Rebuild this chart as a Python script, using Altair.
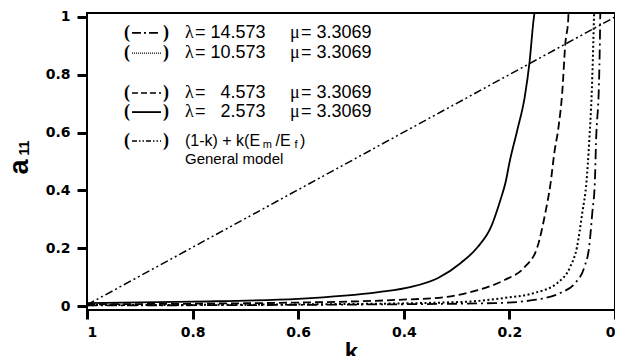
import altair as alt
import pandas as pd

# ---- data ----
k_l2 = [1.0, 0.8, 0.6, 0.448, 0.386, 0.335, 0.292, 0.260, 0.235, 0.217, 0.207, 0.200, 0.185, 0.171, 0.162, 0.154, 0.152]
a_l2 = [0.010, 0.015, 0.025, 0.048, 0.066, 0.097, 0.149, 0.204, 0.273, 0.367, 0.430, 0.495, 0.609, 0.723, 0.841, 0.993, 1.02]

k_l4 = [1.0, 0.6, 0.416, 0.322, 0.260, 0.209, 0.171, 0.147, 0.132, 0.122, 0.115, 0.107, 0.100, 0.094, 0.0885, 0.088]
a_l4 = [0.006, 0.012, 0.021, 0.031, 0.055, 0.090, 0.135, 0.204, 0.322, 0.425, 0.529, 0.619, 0.737, 0.910, 0.993, 1.02]

k_l10 = [1.0, 0.5, 0.292, 0.209, 0.153, 0.109, 0.085, 0.072, 0.062, 0.054, 0.049, 0.043, 0.040, 0.0395]
a_l10 = [0.003, 0.007, 0.014, 0.028, 0.045, 0.080, 0.135, 0.204, 0.322, 0.430, 0.564, 0.792, 0.985, 1.02]

k_l14 = [1.0, 0.5, 0.228, 0.153, 0.104, 0.075, 0.058, 0.049, 0.043, 0.038, 0.036, 0.030, 0.028, 0.0278]
a_l14 = [0.002, 0.005, 0.010, 0.021, 0.045, 0.080, 0.135, 0.204, 0.322, 0.436, 0.564, 0.792, 0.993, 1.02]

k_gen = [1.0, 0.0]
a_gen = [0.004, 1.0]

x_ticks = [1, 0.8, 0.6, 0.4, 0.2, 0]
y_ticks = [0, 0.2, 0.4, 0.6, 0.8, 1]

lambdas = ["14.573", "10.573", "\u20074.573", "\u20072.573"]
mus = ["3.3069", "3.3069", "3.3069", "3.3069"]
row_y = [0.945, 0.875, 0.737, 0.671, 0.571]
gen_y = 0.509

FONT = "Liberation Sans"
SERIF = "Liberation Serif"
TICKFONT = "DejaVu Sans"

xs = alt.Scale(domain=[1, 0], nice=False)
ys = alt.Scale(domain=[-0.0138, 1.0138], nice=False)

X_AX = alt.Axis(values=x_ticks, format="~g", title="k", grid=False, domain=False,
                tickSize=9, tickWidth=3, tickColor="black", labelFont=TICKFONT,
                labelFontSize=14, labelFontWeight="bold", labelColor="black",
                labelPadding=6, titleFont=FONT, titleFontSize=24,
                titleFontWeight="bold", titleColor="black", titlePadding=1)
Y_AX = alt.Axis(values=y_ticks, format="~g", title=None, grid=False, domain=False,
                tickSize=10, tickWidth=3, tickColor="black", labelFont=TICKFONT,
                labelFontSize=14, labelFontWeight="bold", labelColor="black",
                labelPadding=7)


def curve(k, a, dash, width):
    df = pd.DataFrame({"k": k, "a": a, "o": list(range(len(k)))})
    kw = dict(color="black", strokeWidth=width, clip=True, interpolate="monotone")
    if dash is not None:
        kw["strokeDash"] = dash
    return alt.Chart(df).mark_line(**kw).encode(
        x=alt.X("k:Q", scale=xs, axis=X_AX),
        y=alt.Y("a:Q", scale=ys, axis=Y_AX),
        order="o:Q",
    )


layers = [
    curve(k_gen, a_gen, [8, 3, 2, 3, 2, 3], 1.5),
    curve(k_l14, a_l14, [10, 4, 2, 4], 1.8),
    curve(k_l10, a_l10, [2, 2.5], 2.0),
    curve(k_l4, a_l4, [8, 4], 1.8),
    curve(k_l2, a_l2, None, 1.8),
]

# legend positions (data units)
k_lp, k_rp = 0.9242, 0.8504
k_s1, k_s2 = 0.9148, 0.8598
k_lam, k_lam_eq = 0.8144, 0.7955
k_mu, k_mu_eq = 0.6155, 0.5947


def txt(df, size, font=FONT, weight="normal", align="left", dy=0):
    return alt.Chart(df).mark_text(font=font, fontSize=size, fontWeight=weight,
                                   align=align, baseline="middle", color="black", dy=dy).encode(
        x=alt.X("k:Q", scale=xs), y=alt.Y("a:Q", scale=ys), text="t:N")


paren = pd.DataFrame({
    "k": [k_lp] * 5 + [k_rp] * 5,
    "a": row_y + row_y,
    "t": ["("] * 5 + [")"] * 5,
})
layers.append(txt(paren, 18, font=SERIF, weight="bold", align="center"))

samples = [[9, 3, 2, 3], [1, 1], [6, 3], None, [5, 2, 1.5, 2, 1.5, 2]]
widths = [1.6, 1.2, 1.6, 1.8, 1.6]
for i, (dash, w) in enumerate(zip(samples, widths)):
    df = pd.DataFrame({"k": [k_s1], "k2": [k_s2], "a": [row_y[i]]})
    kw = dict(color="black", strokeWidth=w)
    if dash is not None:
        kw["strokeDash"] = dash
    layers.append(alt.Chart(df).mark_rule(**kw).encode(
        x=alt.X("k:Q", scale=xs), x2="k2:Q", y=alt.Y("a:Q", scale=ys)))

lam = pd.DataFrame({"k": [k_lam] * 4, "a": row_y[:4], "t": ["\u03bb"] * 4})
mu = pd.DataFrame({"k": [k_mu] * 4, "a": row_y[:4], "t": ["\u03bc"] * 4})
lam_v = pd.DataFrame({"k": [k_lam_eq] * 4, "a": row_y[:4], "t": ["= " + v for v in lambdas]})
mu_v = pd.DataFrame({"k": [k_mu_eq] * 4, "a": row_y[:4], "t": ["= " + v for v in mus]})
layers += [txt(lam, 18, font=SERIF), txt(mu, 18, font=SERIF),
           txt(lam_v, 18), txt(mu_v, 18)]

# general model formula pieces
gm_main = pd.DataFrame({"k": [0.8144, 0.6430, 0.5966], "a": [row_y[4]] * 3,
                        "t": ["(1-k) + k(E", "/E", ")"]})
gm_sub = pd.DataFrame({"k": [0.6670, 0.6071], "a": [row_y[4]] * 2, "t": ["m", "f"]})
gm_lbl = pd.DataFrame({"k": [0.8144], "a": [gen_y], "t": ["General model"]})
layers += [txt(gm_main, 16), txt(gm_sub, 11, dy=4), txt(gm_lbl, 15)]

# y-axis title a11
ytitle = alt.Chart(pd.DataFrame({"t": ["a"]})).mark_text(
    font=FONT, fontSize=27, fontWeight="bold", angle=270, align="center",
    baseline="middle", color="black").encode(
    x=alt.value(-67), y=alt.value(154), text="t:N")
ysub = alt.Chart(pd.DataFrame({"t": ["11"]})).mark_text(
    font=FONT, fontSize=14, fontWeight="bold", angle=270, align="center",
    baseline="middle", color="black").encode(
    x=alt.value(-62), y=alt.value(135), text="t:N")
layers += [ytitle, ysub]

chart = alt.layer(*layers).properties(
    width=528, height=297,
    autosize=alt.AutoSizeParams(type="none"),
    padding={"left": 79, "top": 5, "right": 0, "bottom": 46},
    background="white",
).configure_view(stroke="black", strokeWidth=2)

chart.save("out.html", embed_options={"renderer": "svg", "actions": False})
